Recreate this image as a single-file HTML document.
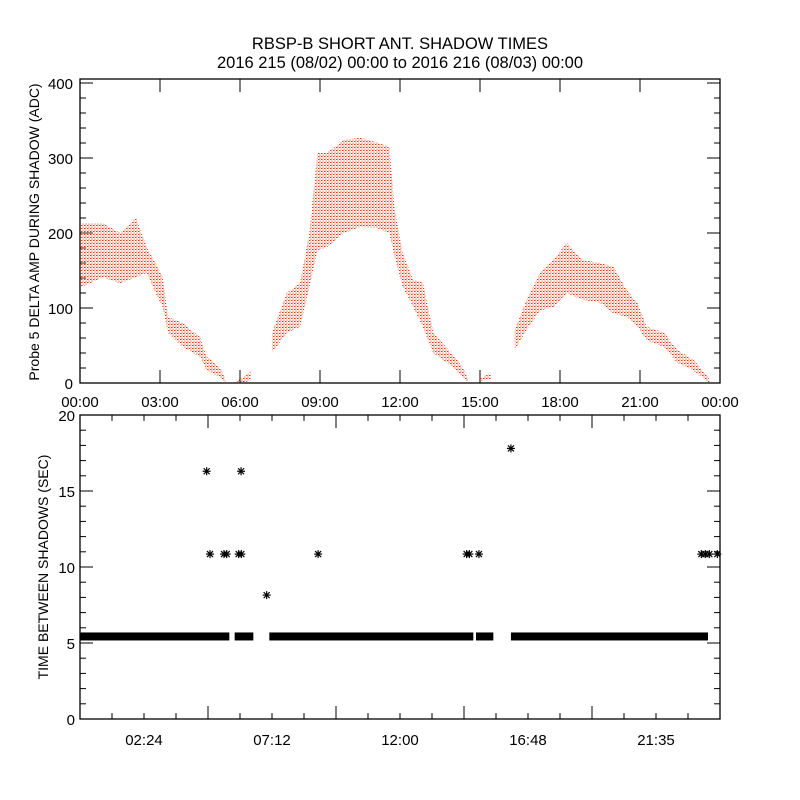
<!DOCTYPE html>
<html><head><meta charset="utf-8"><style>
html,body{margin:0;padding:0;background:#fff}
svg{display:block}
text{font-family:"Liberation Sans",sans-serif;fill:#000}
</style></head><body>
<svg id="chart" width="800" height="800" viewBox="0 0 800 800" xmlns="http://www.w3.org/2000/svg">
<defs>
<pattern id="dots" width="3" height="3" patternUnits="userSpaceOnUse">
<rect x="0" y="0" width="1.5" height="1" fill="#ff2a00"/>
<rect x="1.5" y="1.6" width="1" height="1" fill="#ff2a00"/>
</pattern>
</defs>
<text x="400" y="49" font-size="16.5" text-anchor="middle">RBSP-B SHORT ANT. SHADOW TIMES</text>
<text x="400" y="68" font-size="16.5" text-anchor="middle">2016 215 (08/02) 00:00 to 2016 216 (08/03) 00:00</text>
<g id="topPanel"></g>
<g id="botPanel"></g>
</svg>
<script>
// ---- top panel data (hours, low/high envelope of ADC) ----
const seg1Hours=[0.04,0.87,1.5,2.1,2.5,2.9,3.1,3.3,3.85,4.5,4.75,5.25,5.45];
const seg1Low=[128,141,133,141,147,115,101,67,48,35,17,8,0];
const seg1High=[213,213,200,220,181,155,141,88,80,61,35,21,5];
const seg2Hours=[5.9,6.15,6.4];
const seg2Low=[0,1,3];
const seg2High=[3,8,15];
const seg3Hours=[7.2,7.75,8.25,8.6,8.9,9.25,9.9,10.5,11.1,11.6,11.8,12.1,12.5,12.85,13.25,14.0,14.35,14.55];
const seg3Low=[40,67,75,128,177,181,200,208,207,200,168,128,101,75,40,21,8,0];
const seg3High=[67,120,133,200,307,307,324,327,321,315,230,173,137,135,67,37,21,5];
const seg4Hours=[15.0,15.2,15.4];
const seg4Low=[2,4,5];
const seg4High=[6,10,13];
const seg5Hours=[16.3,16.75,17.25,17.75,18.25,18.85,19.5,20.0,20.5,20.9,21.25,21.9,22.4,23.0,23.35,23.6];
const seg5Low=[44,71,97,101,120,111,107,93,88,75,57,48,27,17,7,0];
const seg5High=[71,111,147,164,187,164,160,155,124,107,75,67,44,31,17,5];
const topYTicks=[0,100,200,300,400];
const topXLabels=["00:00","03:00","06:00","09:00","12:00","15:00","18:00","21:00","00:00"];
// ---- bottom panel data ----
const bandStarts=[0,5.8,7.1,14.85,16.16];
const bandEnds=[5.6,6.5,14.75,15.5,23.55];
const bandValue=[5.43,5.43,5.43,5.43,5.43];
const starHours=[4.75,4.875,5.4,5.5,5.95,6.05,6.04,7.0,8.93,14.5,14.6,14.96,16.16,23.3,23.45,23.6,23.9];
const starValues=[16.3,10.85,10.85,10.85,10.85,10.85,16.3,8.15,10.85,10.85,10.85,10.85,17.8,10.85,10.85,10.85,10.85];
const botYTicks=[0,5,10,15,20];
const botXLabels=["02:24","07:12","12:00","16:48","21:35"];

const NS="http://www.w3.org/2000/svg";
function mk(tag,attrs,parent){const e=document.createElementNS(NS,tag);for(const k in attrs)e.setAttribute(k,attrs[k]);parent.appendChild(e);return e;}
const X0=80,X1=720;
const xH=h=>X0+h*(X1-X0)/24;
const yTop=v=>383-v*0.75;
const yBot=v=>719-v*15.2;
const topG=document.getElementById('topPanel'),botG=document.getElementById('botPanel');

// top frame
let r=mk('rect',{x:80,y:79,width:640,height:304,fill:'none',stroke:'#000','stroke-width':1.3},topG);


for(let v=0;v<=400;v+=20){const maj=v%100===0;const l=maj?13:6;
 mk('line',{x1:80,x2:80+l,y1:yTop(v),y2:yTop(v),stroke:'#000'},topG);
 mk('line',{x1:720,x2:720-l,y1:yTop(v),y2:yTop(v),stroke:'#000'},topG);}
topYTicks.forEach(v=>{const t=mk('text',{x:73,y:yTop(v)+6,'font-size':15,'text-anchor':'end'},topG);t.textContent=v;
 
 });
topXLabels.forEach((s,i)=>{const x=xH(i*3);
 mk('line',{x1:x,x2:x,y1:383,y2:370,stroke:'#000'},topG);mk('line',{x1:x,x2:x,y1:79,y2:92,stroke:'#000'},topG);
 const t=mk('text',{x:x,y:407,'font-size':15,'text-anchor':'middle'},topG);t.textContent=s;
 
 });
let yt=mk('text',{transform:'translate(39,232) rotate(-90)','font-size':14,'text-anchor':'middle'},topG);
yt.textContent='Probe 5 DELTA AMP DURING SHADOW (ADC)';


// bands
[[seg1Hours,seg1Low,seg1High],[seg2Hours,seg2Low,seg2High],[seg3Hours,seg3Low,seg3High],[seg4Hours,seg4Low,seg4High],[seg5Hours,seg5Low,seg5High]].forEach((s,i)=>{
 const [hs,lo,hi]=s;let pts=[];
 hs.forEach((h,j)=>pts.push(xH(h)+','+yTop(hi[j])));
 for(let j=hs.length-1;j>=0;j--)pts.push(xH(hs[j])+','+yTop(lo[j]));
 const p=mk('polygon',{points:pts.join(' '),fill:'url(#dots)',stroke:'none'},topG);
 
 
});

// bottom frame
r=mk('rect',{x:80,y:415,width:640,height:304,fill:'none',stroke:'#000','stroke-width':1.3},botG);


for(let v=0;v<=20;v++){const maj=v%5===0;const l=maj?13:6;
 mk('line',{x1:80,x2:80+l,y1:yBot(v),y2:yBot(v),stroke:'#000'},botG);
 mk('line',{x1:720,x2:720-l,y1:yBot(v),y2:yBot(v),stroke:'#000'},botG);}
botYTicks.forEach(v=>{const t=mk('text',{x:75,y:yBot(v)+6,'font-size':15,'text-anchor':'end'},botG);t.textContent=v;
 
 });
for(let k=1;k<20;k++){const h=k*1.2,x=xH(h),maj=k%4===0,l=maj?13:6;
 mk('line',{x1:x,x2:x,y1:719,y2:719-l,stroke:'#000'},botG);mk('line',{x1:x,x2:x,y1:415,y2:415+l,stroke:'#000'},botG);}
botXLabels.forEach((s,i)=>{const x=xH(2.4+i*4.8);
 const t=mk('text',{x:x,y:745,'font-size':15,'text-anchor':'middle'},botG);t.textContent=s;
 
 });
yt=mk('text',{transform:'translate(48,567) rotate(-90)','font-size':14,'text-anchor':'middle'},botG);
yt.textContent='TIME BETWEEN SHADOWS (SEC)';


bandStarts.forEach((h,i)=>{const x1=xH(h),x2=xH(bandEnds[i]),y=yBot(bandValue[i]);
 const b=mk('rect',{x:x1,y:y-4,width:x2-x1,height:8,fill:'#000'},botG);
 
 });
starHours.forEach((h,i)=>{const x=xH(h),y=yBot(starValues[i]);
 const g=mk('g',{stroke:'#000','stroke-width':1.2},botG);
 
 
 mk('line',{x1:x-4,x2:x+4,y1:y,y2:y},g);mk('line',{x1:x,x2:x,y1:y-4,y2:y+4},g);
 mk('line',{x1:x-3,x2:x+3,y1:y-3,y2:y+3},g);mk('line',{x1:x-3,x2:x+3,y1:y+3,y2:y-3},g);});
</script>
</body></html>
